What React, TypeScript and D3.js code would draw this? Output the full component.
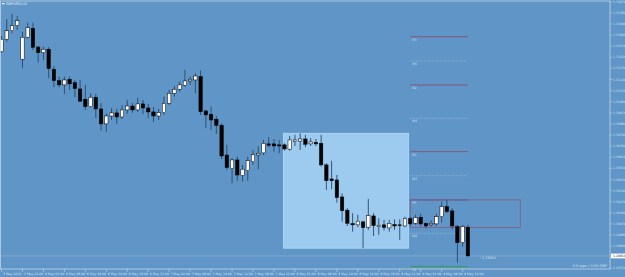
import React from 'react';
import * as d3 from 'd3';

// GBPUSD H1 candles
const opens = [
  1.31465, 1.31566, 1.31635, 1.31676, 1.31404, 1.31582, 1.31655, 1.31503, 1.31457, 1.31485,
  1.31323, 1.3123, 1.31196, 1.31242, 1.31214, 1.31163, 1.3108, 1.3102, 1.31096, 1.31001,
  1.3088, 1.30944, 1.30969, 1.30936, 1.30993, 1.31025, 1.30993, 1.31042, 1.31009, 1.30977,
  1.30944, 1.30971, 1.31047, 1.31128, 1.31161, 1.31193, 1.31228, 1.31236, 1.31263, 1.30985,
  1.30958, 1.30918, 1.30869, 1.30628, 1.30517, 1.30588, 1.30461, 1.30501, 1.30574, 1.30628,
  1.30645, 1.30718, 1.30718, 1.3071, 1.3071, 1.30675, 1.3074, 1.3074, 1.30758, 1.30718,
  1.30731, 1.30723, 1.30548, 1.30434, 1.30426, 1.30288, 1.30181, 1.30072, 1.30062, 1.30086,
  1.30043, 1.30134, 1.30048, 1.30062, 1.30037, 1.30064, 1.30062, 1.30053, 1.30112, 1.30075,
  1.30124, 1.30075, 1.30062, 1.3007, 1.30128, 1.3021, 1.30175, 1.30048, 1.29918, 1.30043,
];
const highs = [
  1.31592, 1.31728, 1.31771, 1.31754, 1.31627, 1.317, 1.317, 1.31511, 1.31506, 1.31501,
  1.31349, 1.31263, 1.31263, 1.31263, 1.31236, 1.31236, 1.31196, 1.31128, 1.31123, 1.31047,
  1.30966, 1.31009, 1.31001, 1.31033, 1.31074, 1.3105, 1.3109, 1.31074, 1.31042, 1.31017,
  1.31001, 1.31101, 1.31155, 1.31187, 1.31222, 1.31317, 1.31263, 1.3129, 1.31311, 1.30993,
  1.3102, 1.30944, 1.30885, 1.3071, 1.30602, 1.30615, 1.30548, 1.30615, 1.30669, 1.30701,
  1.3075, 1.30773, 1.30756, 1.3075, 1.30723, 1.30782, 1.30791, 1.30804, 1.30791, 1.30764,
  1.30758, 1.30791, 1.30561, 1.30582, 1.30466, 1.30318, 1.30197, 1.30156, 1.30143, 1.30096,
  1.30272, 1.30156, 1.30116, 1.30102, 1.30102, 1.30107, 1.30107, 1.30128, 1.30128, 1.30143,
  1.30151, 1.3008, 1.30096, 1.30151, 1.3025, 1.30264, 1.30197, 1.30062, 1.30062, 1.30062,
];
const lows = [
  1.31455, 1.31546, 1.31614, 1.31641, 1.31331, 1.31574, 1.31479, 1.31376, 1.31398, 1.3125,
  1.31177, 1.31177, 1.31123, 1.31155, 1.31096, 1.3106, 1.30993, 1.31015, 1.30926, 1.30825,
  1.30817, 1.30912, 1.3088, 1.3092, 1.30961, 1.30969, 1.30977, 1.30961, 1.30928, 1.30896,
  1.30912, 1.30953, 1.31033, 1.31101, 1.31141, 1.31182, 1.31196, 1.31128, 1.30953, 1.30845,
  1.30831, 1.30799, 1.30595, 1.30507, 1.30399, 1.3042, 1.30412, 1.3042, 1.30548, 1.30513,
  1.30628, 1.30691, 1.30655, 1.30642, 1.30663, 1.30663, 1.30701, 1.30669, 1.30691, 1.30701,
  1.30701, 1.30534, 1.30345, 1.30351, 1.30242, 1.30088, 1.30053, 1.30007, 1.30043, 1.29873,
  1.30021, 1.29972, 1.29981, 1.30016, 1.30007, 1.30021, 1.2994, 1.30043, 1.30053, 1.30062,
  1.30053, 1.30035, 1.30048, 1.30053, 1.3008, 1.30156, 1.30027, 1.29756, 1.29886, 1.29805,
];
const closes = [
  1.31566, 1.31635, 1.31676, 1.31716, 1.31582, 1.3166, 1.31501, 1.31457, 1.31485, 1.31328,
  1.3123, 1.31196, 1.31236, 1.31204, 1.31166, 1.31064, 1.3102, 1.31096, 1.31001, 1.3088,
  1.30944, 1.30969, 1.30936, 1.30993, 1.31025, 1.30993, 1.31042, 1.31009, 1.30977, 1.30944,
  1.30971, 1.31047, 1.31128, 1.31161, 1.31196, 1.31228, 1.31242, 1.31268, 1.30979, 1.30953,
  1.30912, 1.30869, 1.3062, 1.30526, 1.30588, 1.30466, 1.30513, 1.30582, 1.30631, 1.30642,
  1.30723, 1.30707, 1.30701, 1.30701, 1.30677, 1.3075, 1.3075, 1.30758, 1.30715, 1.30734,
  1.30718, 1.30548, 1.3042, 1.3042, 1.30283, 1.30177, 1.30075, 1.30062, 1.30092, 1.3004,
  1.30137, 1.30056, 1.30059, 1.3004, 1.30075, 1.30053, 1.30058, 1.30114, 1.3007, 1.30121,
  1.3007, 1.30053, 1.30075, 1.30128, 1.3021, 1.30169, 1.30053, 1.29918, 1.30048, 1.2981,
];

const dateLabels = [
  '3 May 2019', '3 May 22:00', '6 May 02:00', '6 May 06:00', '6 May 10:00', '6 May 14:00',
  '6 May 18:00', '6 May 22:00', '7 May 02:00', '7 May 06:00', '7 May 10:00', '7 May 14:00',
  '7 May 18:00', '7 May 22:00', '8 May 02:00', '8 May 06:00', '8 May 10:00', '8 May 14:00',
  '8 May 18:00', '8 May 22:00', '9 May 02:00', '9 May 06:00', '9 May 10:00',
];

const priceLabels = [
  '1.31870', '1.31780', '1.31690', '1.31600', '1.31510', '1.31420', '1.31330', '1.31240',
  '1.31150', '1.31060', '1.30970', '1.30880', '1.30790', '1.30700', '1.30610', '1.30520',
  '1.30430', '1.30340', '1.30250', '1.30160', '1.30070', '1.29980', '1.29890', '1.29800',
  '1.29710',
];

// daily pivot levels (solid = main, dotted = mid)
const pivotNames = ['R3', 'M5', 'R2', 'M4', 'R1', 'M3', 'PP', 'M2', 'S1'];
const pivotValues = [1.31586, 1.3139, 1.31195, 1.30925, 1.30655, 1.3046, 1.30264, 1.29994, 1.29724];
const pivotKinds = ['r', 'm', 'r', 'm', 'r', 'm', 'p', 'm', 's'];

// previous day range (8 May) and today's range box
const prevDay = { from: 53.8, to: 77.7, high: 1.30804, low: 1.29873 };
const todayBox = { from: 78, to: 99, high: 1.30264, low: 1.3004 };
const bid = 1.2981;

const W = 625;
const H = 277;
const plotRight = 610;
const plotBottom = 269;

const BG = '#5f96c7';
const TEXT = '#d3e0ee';
const WICK = '#27476a';

const App: React.FC = () => {
  const x = d3.scaleLinear().domain([0, 100]).range([1.5, 1.5 + 524]);
  const y = d3.scaleLinear().domain([1.2971, 1.3187]).range([268.3, 1.7]);

  const bodyW = 3.4;
  const font = 'DejaVu Sans, sans-serif';

  const levelColor = (k: string) =>
    k === 'r' ? '#8c4f72' : k === 'p' ? '#5a4a9e' : k === 's' ? '#2f9e48' : '#c4d5e6';

  return (
    <svg
      width={W}
      height={H}
      style={{ position: 'absolute', left: 0, top: 0, display: 'block' }}
      fontFamily={font}
    >
      <rect x={0} y={0} width={W} height={H} fill={BG} />

      {/* previous day range */}
      <rect
        x={x(prevDay.from)}
        y={y(prevDay.high)}
        width={x(prevDay.to) - x(prevDay.from)}
        height={y(prevDay.low) - y(prevDay.high)}
        fill="#9dcbef"
        stroke="#b5daf5"
        strokeWidth={0.8}
      />

      {/* pivot lines */}
      {pivotValues.map((v, i) => (
        <g key={pivotNames[i]}>
          <line
            x1={x(78)}
            x2={x(89)}
            y1={y(v)}
            y2={y(v)}
            stroke={levelColor(pivotKinds[i])}
            strokeWidth={pivotKinds[i] === 'm' ? 0.7 : 0.9}
            strokeDasharray={pivotKinds[i] === 'm' ? '0.8,1.2' : undefined}
            opacity={pivotKinds[i] === 'm' ? 0.8 : 1}
          />
          <text x={x(78) + 2} y={y(v) + 4} fontSize={3.2} fill={TEXT}>
            {pivotNames[i]}
          </text>
        </g>
      ))}

      {/* today's range box */}
      <rect
        x={x(todayBox.from)}
        y={y(todayBox.high)}
        width={x(todayBox.to) - x(todayBox.from)}
        height={y(todayBox.low) - y(todayBox.high)}
        fill="none"
        stroke="#8c5a78"
        strokeWidth={0.8}
      />

      {/* bid line */}
      <line x1={1} x2={plotRight} y1={y(bid)} y2={y(bid)} stroke="#9ab6d2" strokeWidth={0.6} />
      <text x={x(91.2)} y={y(bid) + 3} fontSize={3.3} fill={TEXT}>
        ~1.29810
      </text>

      {/* candles */}
      {opens.map((o, i) => {
        const c = closes[i];
        const up = c >= o;
        const top = y(Math.max(o, c));
        const h = Math.max(0.8, y(Math.min(o, c)) - top);
        return (
          <g key={i}>
            <line x1={x(i)} x2={x(i)} y1={y(highs[i])} y2={y(lows[i])} stroke={WICK} strokeWidth={0.9} />
            <rect
              x={x(i) - bodyW / 2}
              y={top}
              width={bodyW}
              height={h}
              fill={up ? '#ffffff' : '#000000'}
              stroke="#000"
              strokeWidth={0.5}
            />
          </g>
        );
      })}

      {/* frame */}
      <rect x={0.5} y={1} width={plotRight - 0.5} height={plotBottom - 1} fill="none" stroke="#c3d4e6" strokeWidth={0.8} />

      {/* price axis */}
      {priceLabels.map((p) => {
        const yy = y(+p);
        return (
          <g key={p}>
            <line x1={plotRight} x2={plotRight + 2} y1={yy} y2={yy} stroke="#c3d4e6" strokeWidth={0.6} />
            <text x={plotRight + 3} y={yy + 1.1} fontSize={3.1} fill={TEXT}>
              {p}
            </text>
          </g>
        );
      })}
      <rect x={plotRight + 1} y={y(bid) - 2.4} width={14} height={4.8} fill="#ffffff" />
      <text x={plotRight + 3} y={y(bid) + 1.1} fontSize={3.1} fill="#1e3550">
        1.29810
      </text>

      {/* time axis */}
      {dateLabels.map((d, k) => {
        const xx = x(k * 4);
        return (
          <g key={d}>
            <line x1={xx} x2={xx} y1={plotBottom} y2={plotBottom + 3} stroke="#c3d4e6" strokeWidth={0.6} />
            <text x={xx + 1.5} y={plotBottom + 5.5} fontSize={3.1} fill={TEXT}>
              {d}
            </text>
          </g>
        );
      })}

      <text x={607} y={267.3} fontSize={3.6} fill={TEXT} textAnchor="end">
        0.0 pips | 0.00 GBP
      </text>

      {/* title */}
      <rect x={2} y={3} width={2.6} height={1.2} fill="#ffffff" />
      <text x={6} y={5} fontSize={3.6} fill="#eef3f8">
        GBPUSD,H1
      </text>
    </svg>
  );
};

export default App;
